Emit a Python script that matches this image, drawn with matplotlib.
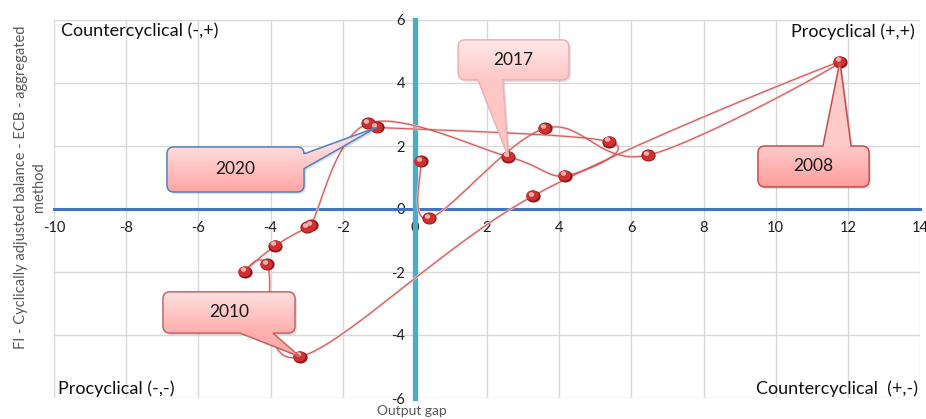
import numpy as np
import matplotlib
matplotlib.use("Agg")
import matplotlib.pyplot as plt
from matplotlib.path import Path
from matplotlib.patches import PathPatch
from matplotlib.transforms import Affine2D, IdentityTransform, offset_copy

plt.rcParams["font.family"] = ["Lato", "DejaVu Sans"]

# ---- data: output gap vs. cyclically adjusted balance, by year ----
years = [2004, 2005, 2006, 2007, 2008, 2009, 2010, 2011, 2012,
         2013, 2014, 2015, 2016, 2017, 2018, 2019, 2020]
output_gap = [0.17, 0.40, 3.61, 6.47, 11.78, 3.27, -3.18, -4.10, -4.71,
              -3.87, -2.98, -2.88, -1.29, 2.59, 4.16, 5.39, -1.06]
cab_balance = [1.52, -0.30, 2.56, 1.71, 4.68, 0.41, -4.69, -1.75, -1.99,
               -1.17, -0.58, -0.52, 2.72, 1.66, 1.05, 2.14, 2.59]

x_ticks = [-10, -8, -6, -4, -2, 0, 2, 4, 6, 8, 10, 12, 14]
y_ticks = [-6, -4, -2, 0, 2, 4, 6]

quadrant_labels = ["Countercyclical (-,+)", "Procyclical (+,+)",
                   "Procyclical (-,-)", "Countercyclical  (+,-)"]
callout_years = [2008, 2010, 2017, 2020]

# ---- callout layout (box in data units, pointer side and base) ----
callout_style = {
    2008: dict(box=(9.51, 12.59, 0.70, 2.00), side="top", base=(11.31, 12.09),
               edge="#c0504d", top="#ffcaca", bottom="#ff9d9d"),
    2010: dict(box=(-6.98, -3.32, -3.94, -2.63), side="bottom", base=(-4.84, -3.93),
               edge="#c86464", top="#ffe0e0", bottom="#ffadad"),
    2017: dict(box=(1.20, 4.27, 4.10, 5.37), side="bottom", base=(1.75, 2.44),
               edge="#eeb0b0", top="#ffe8e8", bottom="#ffc6c6"),
    2020: dict(box=(-6.87, -3.07, 0.54, 1.97), side="right", base=(1.75, 1.28),
               edge="#4f81bd", top="#ffdcdc", bottom="#ffa5a5"),
}

W, H, DPI = 926, 419, 100
fig = plt.figure(figsize=(W / DPI, H / DPI), dpi=DPI)
fig.patch.set_facecolor("white")
ax = fig.add_axes([54 / W, 1 - 398 / H, 866 / W, 378 / H])
ax.set_xlim(-10, 14)
ax.set_ylim(-6, 6)
ax.set_xticks(x_ticks)
ax.set_yticks(y_ticks)
ax.set_xticklabels([str(v) for v in x_ticks])
ax.set_yticklabels([str(v) for v in y_ticks])
ax.grid(True, color="#d9d9d9", lw=1.0)
ax.set_axisbelow(True)

for s in ("top", "right"):
    ax.spines[s].set_visible(False)
ax.spines["left"].set_position(("data", 0))
ax.spines["bottom"].set_position(("data", 0))
ax.spines["left"].set_color("#4bacc6")
ax.spines["left"].set_linewidth(3.8)
ax.spines["bottom"].set_color("#4472c4")
ax.spines["bottom"].set_linewidth(2.2)
ax.spines["left"].set_zorder(2.6)
ax.spines["bottom"].set_zorder(2.5)
ax.tick_params(axis="both", length=0, labelsize=10.5, labelcolor="#1e1e1e")
ax.tick_params(axis="x", pad=9)
ax.tick_params(axis="y", pad=7)
for lab in ax.get_xticklabels() + ax.get_yticklabels():
    lab.set_zorder(3)

# ---- smoothed trajectory (cubic Bezier through every point, screen space) ----
T = ax.transData
pts = T.transform(np.column_stack([output_gap, cab_balance]))
n = len(pts)
curve = [pts[0]]
tt = np.linspace(0, 1, 40)[1:]
for i in range(n - 1):
    p0, p3 = pts[i], pts[i + 1]
    prev = pts[i - 1] if i > 0 else pts[i]
    nxt = pts[i + 2] if i + 2 < n else pts[i + 1]
    p1 = p0 + (p3 - prev) / 6.0
    p2 = p3 - (nxt - p0) / 6.0
    b = ((1 - tt) ** 3)[:, None] * p0 + (3 * (1 - tt) ** 2 * tt)[:, None] * p1 \
        + (3 * (1 - tt) * tt ** 2)[:, None] * p2 + (tt ** 3)[:, None] * p3
    curve.extend(b)
curve = T.inverted().transform(np.array(curve))
ax.plot(curve[:, 0], curve[:, 1], color="#f5cfcf", lw=1.8, zorder=3)
ax.plot(curve[:, 0], curve[:, 1], color="#d35a5a", lw=0.8, zorder=3.1)

# ---- sphere-like markers ----
ell = Path.unit_circle().transformed(Affine2D().scale(1.18, 1.0))
ax.scatter(output_gap, cab_balance, s=105, marker=ell, color="#8e1616", zorder=4, lw=0)
ax.scatter(output_gap, cab_balance, s=78, marker=ell, color="#cf3030", zorder=4.1, lw=0,
           transform=offset_copy(T, fig, x=-0.6, y=0.6, units="dots"))
ax.scatter(output_gap, cab_balance, s=15, marker=ell, color="#f7b0b0", zorder=4.2, lw=0,
           transform=offset_copy(T, fig, x=-2.3, y=2.5, units="dots"))


# ---- callouts ----
def callout_path(X0, Y0, X1, Y1, r, side, b, tip):
    verts, codes = [], []

    def mv(p):
        verts.append(p); codes.append(Path.MOVETO)

    def ln(p):
        verts.append(p); codes.append(Path.LINETO)

    def qd(c, p):
        verts.extend([c, p]); codes.extend([Path.CURVE3, Path.CURVE3])

    mv((X0 + r, Y0))
    if side == "bottom":
        lo, hi = sorted(b)
        ln((lo, Y0)); ln(tip); ln((hi, Y0))
    ln((X1 - r, Y0)); qd((X1, Y0), (X1, Y0 + r))
    if side == "right":
        lo, hi = sorted(b)
        ln((X1, lo)); ln(tip); ln((X1, hi))
    ln((X1, Y1 - r)); qd((X1, Y1), (X1 - r, Y1))
    if side == "top":
        lo, hi = sorted(b)
        ln((hi, Y1)); ln(tip); ln((lo, Y1))
    ln((X0 + r, Y1)); qd((X0, Y1), (X0, Y1 - r))
    ln((X0, Y0 + r)); qd((X0, Y0), (X0 + r, Y0))
    verts.append((X0 + r, Y0)); codes.append(Path.CLOSEPOLY)
    return Path(verts, codes)


def hex_rgb(h):
    return np.array([int(h[i:i + 2], 16) / 255 for i in (1, 3, 5)])


for yr in callout_years:
    st = callout_style[yr]
    i = years.index(yr)
    x0, x1, y0, y1 = st["box"]
    X0, Y0 = T.transform((x0, y0))
    X1, Y1 = T.transform((x1, y1))
    tip = T.transform((output_gap[i], cab_balance[i]))
    if st["side"] in ("top", "bottom"):
        b = tuple(T.transform((v, 0))[0] for v in st["base"])
    else:
        b = tuple(T.transform((0, v))[1] for v in st["base"])
    path = callout_path(X0, Y0, X1, Y1, 7, st["side"], b, tuple(tip))

    shadow = PathPatch(path, transform=IdentityTransform() + Affine2D().translate(2, -2),
                       facecolor="#000000", alpha=0.12, lw=0, zorder=4.8)
    ax.add_patch(shadow)
    patch = PathPatch(path, transform=IdentityTransform(), facecolor="none",
                      edgecolor=st["edge"], lw=1.1, zorder=5.2)
    ax.add_patch(patch)

    ext = path.get_extents()
    ex0, ey0 = T.inverted().transform((ext.x0, ext.y0))
    ex1, ey1 = T.inverted().transform((ext.x1, ext.y1))
    rows = np.linspace(ext.y1, ext.y0, 200)
    frac = np.clip((Y1 - rows) / (Y1 - Y0), 0, 1)[:, None]
    col = (1 - frac) * hex_rgb(st["top"]) + frac * hex_rgb(st["bottom"])
    img = np.repeat(col[:, None, :], 4, axis=1)
    im = ax.imshow(img, extent=[ex0, ex1, ey0, ey1], aspect="auto",
                   interpolation="bilinear", zorder=5.0, origin="upper")
    im.set_clip_path(patch)
    ax.text((x0 + x1) / 2, (y0 + y1) / 2, str(yr), ha="center", va="center",
            fontsize=12.5, color="#1a1a1a", zorder=5.5)

ax.set_xlim(-10, 14)
ax.set_ylim(-6, 6)

# ---- quadrant labels ----
qkw = dict(transform=ax.transAxes, fontsize=13, color="#111111", va="center", zorder=6)
ax.text(0.008, 0.971, quadrant_labels[0], ha="left", **qkw)
ax.text(0.994, 0.968, quadrant_labels[1], ha="right", **qkw)
ax.text(0.0046, 0.024, quadrant_labels[2], ha="left", **qkw)
ax.text(0.9977, 0.024, quadrant_labels[3], ha="right", **qkw)

# ---- axis titles ----
fig.text(412 / W, 1 - 411 / H, "Output gap", ha="center", va="center",
         fontsize=10, color="#595959")
fig.text(30 / W, 1 - 187 / H, "FI - Cyclically adjusted balance - ECB - aggregated\nmethod",
         rotation=90, ha="center", va="center", multialignment="center",
         fontsize=10.5, color="#595959", linespacing=1.4)

fig.savefig("out.png", dpi=DPI)
